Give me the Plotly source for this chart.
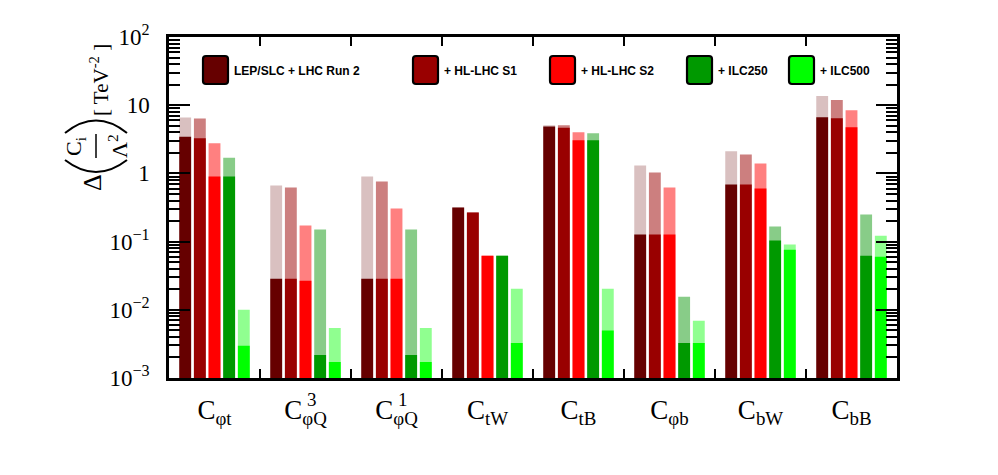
import plotly.graph_objects as go

# ---------------- data ----------------
categories = ["C<sub>φt</sub>", "C<sub>φQ</sub>", "C<sub>φQ</sub>",
              "C<sub>tW</sub>", "C<sub>tB</sub>", "C<sub>φb</sub>", "C<sub>bW</sub>", "C<sub>bB</sub>"]
category_sup = ["", "3", "1", "", "", "", "", ""]

series_names = ["LEP/SLC + LHC Run 2", "+ HL-LHC S1", "+ HL-LHC S2", "+ ILC250", "+ ILC500"]

# lower (solid) and upper (light) values of each bound
lep_low = [3.46, 0.0286, 0.0286, 0.316, 4.86, 0.127, 0.689, 6.67]
lep_high = [6.6, 0.667, 0.90, 0.316, 5.08, 1.31, 2.11, 13.6]
s1_low = [3.27, 0.0286, 0.0286, 0.267, 4.69, 0.127, 0.689, 6.44]
s1_high = [6.4, 0.622, 0.762, 0.267, 5.08, 1.03, 1.90, 11.9]
s2_low = [0.90, 0.0267, 0.0286, 0.0622, 3.06, 0.127, 0.601, 4.75]
s2_high = [2.76, 0.172, 0.306, 0.0622, 4.01, 0.622, 1.40, 8.43]
ilc250_low = [0.90, 0.00218, 0.00218, 0.0622, 3.06, 0.00327, 0.104, 0.0622]
ilc250_high = [1.70, 0.150, 0.150, 0.0622, 3.87, 0.0155, 0.166, 0.249]
ilc500_low = [0.00296, 0.00172, 0.00172, 0.00327, 0.00497, 0.00327, 0.0762, 0.060]
ilc500_high = [0.0100, 0.00543, 0.00543, 0.0204, 0.0204, 0.00689, 0.0904, 0.122]

y_tickvals = [1e-3, 1e-2, 1e-1, 1, 10, 100]
y_ticktext = ["10<sup>−3</sup>", "10<sup>−2</sup>", "10<sup>−1</sup>", "1", "10", "10<sup>2</sup>"]

# ---------------- styles ----------------
solid_colors = ["#660000", "#990000", "#ff0000", "#009900", "#00ff00"]
light_colors = ["#d9c0c0", "#cc7f7f", "#ff8080", "#88cc88", "#90ff90"]

lows = [lep_low, s1_low, s2_low, ilc250_low, ilc500_low]
highs = [lep_high, s1_high, s2_high, ilc250_high, ilc500_high]

ncat = len(categories)
xpos = [i + 0.5 for i in range(ncat)]

fig = go.Figure()
for k in range(len(series_names)):
    fig.add_trace(go.Bar(x=xpos, y=highs[k], name=series_names[k] + " (range)",
                         marker=dict(color=light_colors[k], line=dict(width=0)),
                         offsetgroup=str(k), showlegend=False))
    fig.add_trace(go.Bar(x=xpos, y=lows[k], name=series_names[k],
                         marker=dict(color=solid_colors[k], line=dict(width=0)),
                         offsetgroup=str(k), showlegend=False))

# plot-area geometry in pixels
W_FIG, H_FIG = 998, 475
L, R, T, B = 169, 897, 37, 378
PW, PH = R - L, B - T


def px(x):
    return (x - L) / PW


def py(y):
    return (B - y) / PH


minor_y = [m * 10 ** e for e in range(-3, 2) for m in range(2, 10)]
serif = "Liberation Serif"
XFONT = 27

fig.update_layout(
    width=W_FIG, height=H_FIG, autosize=False,
    margin=dict(l=L, r=W_FIG - R, t=T, b=H_FIG - B, pad=0),
    paper_bgcolor="white", plot_bgcolor="white",
    barmode="group", bargap=0.195, bargroupgap=0.19,
    xaxis=dict(range=[0, ncat], showgrid=False, zeroline=False,
               showline=True, linecolor="black", linewidth=2.5, mirror="ticks",
               tickvals=xpos, ticktext=categories, ticks="", ticklabelstandoff=6,
               tickfont=dict(family=serif, size=XFONT, color="black"),
               minor=dict(tickvals=list(range(1, ncat)), ticks="inside", ticklen=9,
                          tickwidth=2, tickcolor="black", showgrid=False)),
    yaxis=dict(type="log", range=[-3, 2], showgrid=False, zeroline=False,
               showline=True, linecolor="black", linewidth=2.5, mirror="ticks",
               tickvals=y_tickvals, ticktext=y_ticktext, ticks="inside",
               ticklen=21, tickwidth=2, tickcolor="black", ticklabelstandoff=12,
               tickfont=dict(family=serif, size=23, color="black"),
               minor=dict(tickvals=minor_y, ticks="inside", ticklen=11,
                          tickwidth=2, tickcolor="black", showgrid=False)),
    font=dict(family=serif, color="black"),
)

shapes = []
annotations = []

# superscripts stacked over the subscripts of the x labels
for i, s in enumerate(category_sup):
    if s:
        cx = L + PW * xpos[i] / ncat
        annotations.append(dict(text=s, xref="paper", yref="paper",
                                x=px(cx - 1), y=py(399), xanchor="left", yanchor="middle",
                                showarrow=False,
                                font=dict(family=serif, size=19, color="black")))

# ---------------- custom legend ----------------
box_left = [203, 413, 550, 687, 789]
box_w, box_top, box_bot = 25, 56, 84
r = 3
for k in range(len(series_names)):
    x0, x1 = box_left[k], box_left[k] + box_w
    y0, y1 = box_top, box_bot
    rx, ry = r / PW, r / PH
    X0, X1, Y0, Y1 = px(x0), px(x1), py(y1), py(y0)
    path = (f"M {X0+rx},{Y0} L {X1-rx},{Y0} Q {X1},{Y0} {X1},{Y0+ry} "
            f"L {X1},{Y1-ry} Q {X1},{Y1} {X1-rx},{Y1} L {X0+rx},{Y1} "
            f"Q {X0},{Y1} {X0},{Y1-ry} L {X0},{Y0+ry} Q {X0},{Y0} {X0+rx},{Y0} Z")
    shapes.append(dict(type="path", path=path, xref="paper", yref="paper",
                       fillcolor=solid_colors[k], line=dict(color="black", width=2.2)))
    annotations.append(dict(text="<b>" + series_names[k] + "</b>", xref="paper", yref="paper",
                            x=px(x1 + 4), y=py((y0 + y1) / 2 + 1), xanchor="left", yanchor="middle",
                            showarrow=False,
                            font=dict(family="Liberation Sans", size=12, color="black")))

# ---------------- y-axis title built from pieces ----------------
def rot(text, x, y, size):
    return dict(text=text, xref="paper", yref="paper", x=px(x), y=py(y),
                xanchor="center", yanchor="middle", showarrow=False, textangle=-90,
                font=dict(family=serif, size=size, color="black"))


annotations += [
    rot("Δ", 93, 183, 26),
    rot("C<sub>i</sub>", 75, 146, 22),
    rot("Λ<sup>2</sup>", 118, 146, 22),
    rot("[ TeV<sup>-2</sup> ]", 99, 80, 21),
]
# fraction bar
shapes.append(dict(type="line", xref="paper", yref="paper",
                   x0=px(96), x1=px(96), y0=py(134), y1=py(158),
                   line=dict(color="black", width=1.5)))


def arc(xa, xb, yend, yctrl):
    return (f"M {px(xa)},{py(yend)} Q {px((xa + xb) / 2)},{py(yctrl)} {px(xb)},{py(yend)}")


# big parentheses around the fraction (rotated)
shapes.append(dict(type="path", xref="paper", yref="paper", path=arc(65, 127, 160, 184),
                   line=dict(color="black", width=2)))
shapes.append(dict(type="path", xref="paper", yref="paper", path=arc(65, 127, 133, 108),
                   line=dict(color="black", width=2)))

fig.update_layout(shapes=shapes, annotations=annotations)

fig.write_html("out.html")
